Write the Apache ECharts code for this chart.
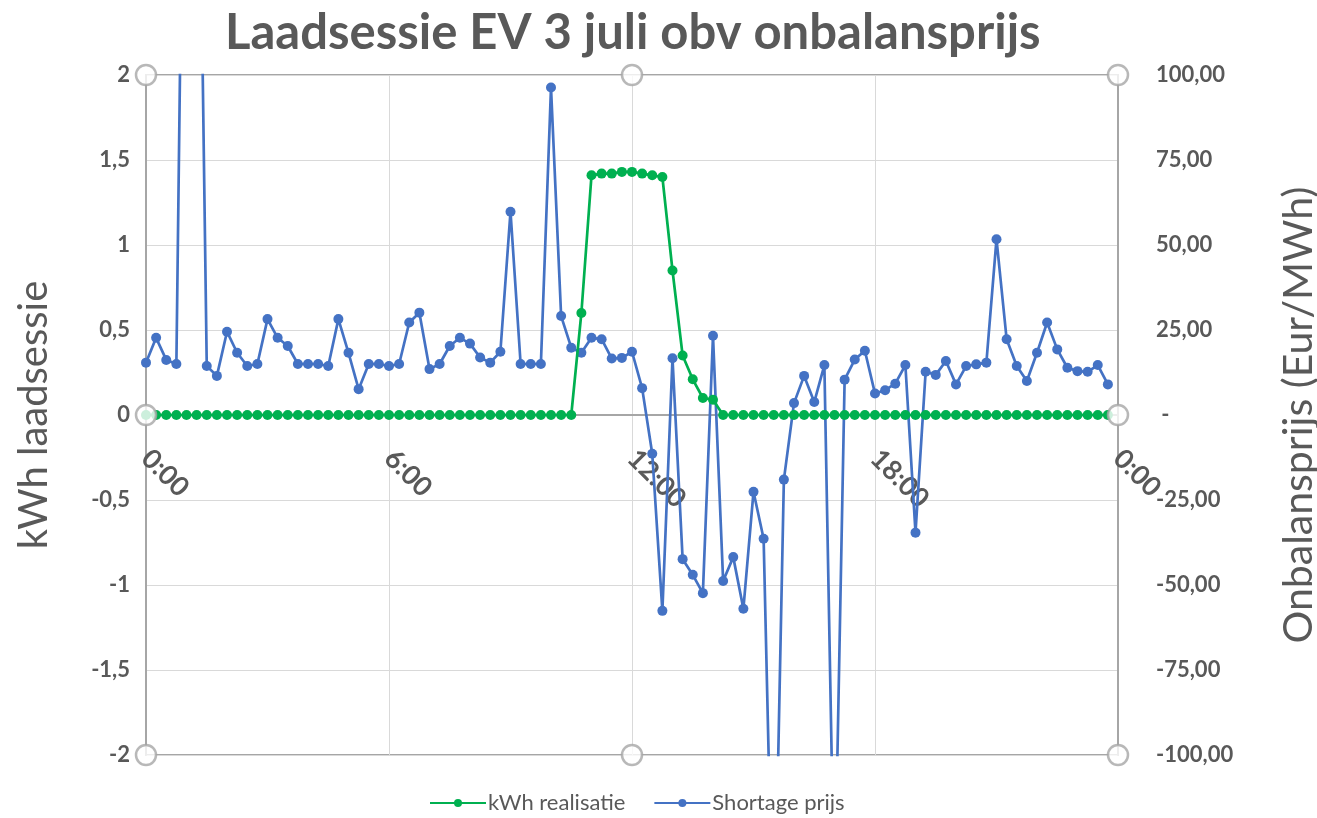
<!DOCTYPE html>
<html>
<head>
<meta charset="utf-8">
<title>Laadsessie EV 3 juli obv onbalansprijs</title>
<script src="https://cdn.jsdelivr.net/npm/echarts@6/dist/echarts.min.js"></script>
<style>
  html, body { margin: 0; padding: 0; background: #fff; }
  #chart { width: 1317px; height: 818px; }
</style>
</head>
<body>
<div id="chart"></div>
<script>
// kwartierwaarden, 3 juli
var kwhRealisatie = [
    0, 0, 0, 0, 0, 0, 0, 0, 0, 0, 0, 0, 0, 0, 0, 0, 0, 0, 0, 0, 0, 0, 0, 0,
    0, 0, 0, 0, 0, 0, 0, 0, 0, 0, 0, 0, 0, 0, 0, 0, 0, 0, 0, 0.6,
    1.41, 1.42, 1.42, 1.43, 1.43, 1.42, 1.41, 1.40,
    0.85, 0.35, 0.21, 0.10, 0.09,
    0, 0, 0, 0, 0, 0, 0, 0, 0, 0, 0, 0, 0, 0, 0, 0, 0, 0, 0, 0,
    0, 0, 0, 0, 0, 0, 0, 0, 0, 0, 0, 0, 0, 0, 0, 0, 0, 0, 0
];
var shortagePrijs = [
    15.4, 22.7, 16.2, 15.0, 255, 230, 14.4, 11.5, 24.5, 18.3, 14.4, 15.0,
    28.2, 22.7, 20.3, 15.0, 15.0, 15.0, 14.4, 28.2, 18.3, 7.6, 15.0, 15.0,
    14.4, 15.0, 27.2, 30.1, 13.5, 15.0, 20.3, 22.7, 21.0, 16.9, 15.4, 18.6,
    59.8, 15.0, 15.0, 15.0, 96.3, 29.1, 19.8, 18.3, 22.7, 22.3, 16.6, 16.8,
    18.6, 7.9, -11.4, -57.6, 16.7, -42.4, -47.0, -52.4, 23.3, -48.8, -41.8, -57.0,
    -22.6, -36.4, -165, -19.0, 3.5, 11.5, 3.8, 14.7, -145, 10.4, 16.3, 18.9,
    6.3, 7.3, 9.2, 14.7, -34.6, 12.7, 11.8, 15.9, 9.0, 14.4, 14.9, 15.4,
    51.7, 22.3, 14.4, 10.0, 18.3, 27.2, 19.3, 13.9, 12.9, 12.7, 14.7, 9.0
];
// Excel selectiegrepen op de rand van het tekengebied (kwartier-index, kWh)
var grepen = [[0, 2], [48, 2], [96, 2], [0, 0], [96, 0], [0, -2], [48, -2], [96, -2]];

// tijdlabels per kwartier, 0:00 t/m 24:00 (= 0:00)
var tijden = [];
for (var q = 0; q <= 96; q++) {
    var h = Math.floor(q / 4) % 24, m = (q % 4) * 15;
    tijden.push(h + ':' + (m < 10 ? '0' + m : m));
}

var grijs = '#595959';
var font = 'Lato, "Open Sans", "DejaVu Sans", sans-serif';

function komma(v, d) {
    return v.toFixed(d).replace('.', ',');
}

var myChart = echarts.init(document.getElementById('chart'));
var option = {
    color: ['#00B050', '#4472C4'],
    textStyle: { fontFamily: font },
    title: {
        text: 'Laadsessie EV 3 juli obv onbalansprijs',
        left: 220,
        top: 4,
        textStyle: { color: grijs, fontSize: 49, fontWeight: 'bold', fontFamily: font }
    },
    legend: {
        data: ['kWh realisatie', 'Shortage prijs'],
        bottom: -1,
        left: 424,
        itemWidth: 56,
        itemHeight: 10,
        itemGap: 28,
        textStyle: { color: grijs, fontSize: 22, fontFamily: font, padding: [0, 0, 0, -3] }
    },
    grid: {
        left: 146,
        right: 199,
        top: 75,
        bottom: 63,
        show: true,
        containLabel: false,
        outerBoundsMode: 'none',
        borderColor: '#A6A6A6',
        borderWidth: 2
    },
    xAxis: {
        type: 'category',
        data: tijden,
        boundaryGap: false,
        position: 'bottom',
        offset: -340,   // as kruist de kWh-as bij 0 (midden van het tekengebied)
        axisLine: { onZero: false, lineStyle: { color: '#A6A6A6', width: 2 } },
        axisTick: { show: false },
        axisLabel: {
            interval: function (idx) { return idx % 24 === 0; },
            rotate: -45,
            margin: 39,
            color: grijs,
            fontSize: 27,
            fontWeight: 'bold',
            fontFamily: font
        },
        splitLine: {
            show: true,
            interval: function (idx) { return idx % 24 === 0; },
            lineStyle: { color: '#D9D9D9', width: 1 }
        }
    },
    yAxis: [
        {
            type: 'value',
            min: -2,
            max: 2,
            interval: 0.5,
            name: 'kWh laadsessie',
            nameLocation: 'middle',
            nameGap: 92,
            nameTextStyle: { color: grijs, fontSize: 40, fontFamily: font },
            axisLine: { show: true, lineStyle: { color: '#A6A6A6', width: 2 } },
            axisTick: { show: false },
            axisLabel: {
                margin: 16,
                color: grijs,
                fontSize: 22,
                fontWeight: 'bold',
                fontFamily: font,
                formatter: function (v) { return String(v).replace('.', ','); }
            },
            splitLine: { lineStyle: { color: '#D9D9D9', width: 1 } }
        },
        {
            type: 'value',
            min: -100,
            max: 100,
            interval: 25,
            name: 'Onbalansprijs (Eur/MWh)',
            nameLocation: 'middle',
            nameGap: 160,
            nameTextStyle: { color: grijs, fontSize: 41, fontFamily: font },
            axisLine: { show: true, lineStyle: { color: '#A6A6A6', width: 2 } },
            axisTick: { show: false },
            axisLabel: {
                margin: 38,
                color: grijs,
                fontSize: 22,
                fontWeight: 'bold',
                fontFamily: font,
                formatter: function (v) { return v === 0 ? ' -' : komma(v, 2); }
            },
            splitLine: { show: false }
        }
    ],
    series: [
        {
            name: 'Shortage prijs',
            type: 'line',
            yAxisIndex: 1,
            data: shortagePrijs,
            symbol: 'circle',
            symbolSize: 10,
            showAllSymbol: true,
            lineStyle: { width: 2.7, color: '#4472C4' },
            itemStyle: { color: '#4472C4' },
            z: 2
        },
        {
            name: 'kWh realisatie',
            type: 'line',
            yAxisIndex: 0,
            data: kwhRealisatie,
            symbol: 'circle',
            symbolSize: 10,
            showAllSymbol: true,
            lineStyle: { width: 2.7, color: '#00B050' },
            itemStyle: { color: '#00B050' },
            z: 3
        },
        {
            name: 'grepen',
            type: 'scatter',
            yAxisIndex: 0,
            data: grepen,
            symbol: 'circle',
            symbolSize: 20,
            silent: true,
            itemStyle: { color: '#fff', borderColor: '#A6A6A6', borderWidth: 2.5 },
            z: 10
        }
    ]
};
myChart.setOption(option);
</script>
</body>
</html>
